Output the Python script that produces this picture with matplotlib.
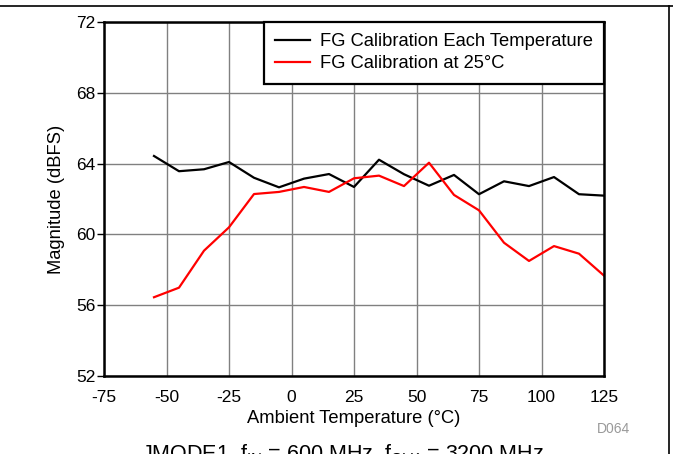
import matplotlib
matplotlib.use("Agg")
import matplotlib.pyplot as plt
import numpy as np

plt.rcParams['font.family'] = ['Liberation Sans', 'DejaVu Sans']
plt.rcParams['mathtext.fontset'] = 'custom'
plt.rcParams['mathtext.rm'] = 'Liberation Sans'
plt.rcParams['axes.unicode_minus'] = False
plt.rcParams['font.size'] = 13.2

temps = [-55, -45, -35, -25, -15, -5, 5, 15, 25, 35, 45, 55, 65, 75, 85, 95, 105, 115, 125]
each_temp = [64.43, 63.57, 63.68, 64.09, 63.2, 62.66, 63.15, 63.41, 62.68, 64.22,
             63.4, 62.75, 63.36, 62.27, 63.0, 62.73, 63.24, 62.27, 62.19]
at_25c = [56.45, 56.99, 59.08, 60.4, 62.28, 62.4, 62.68, 62.4, 63.17, 63.32,
          62.73, 64.05, 62.23, 61.36, 59.53, 58.5, 59.34, 58.91, 57.67]

xticks = np.arange(-75, 126, 25)
yticks = np.arange(52, 73, 4)

fig = plt.figure(figsize=(6.73, 4.54), dpi=100)
ax = fig.add_axes([104 / 673, 1 - 376 / 454, 500 / 673, 354 / 454])

ax.plot(temps, each_temp, color='black', linewidth=1.6, label='FG Calibration Each Temperature')
ax.plot(temps, at_25c, color='#ff0000', linewidth=1.6, label='FG Calibration at 25°C')

ax.set_xlim(-75, 125)
ax.set_ylim(52, 72)
ax.set_xticks(xticks)
ax.set_yticks(yticks)
ax.grid(True, color='#808080', linewidth=1)
ax.set_axisbelow(True)
for s in ax.spines.values():
    s.set_linewidth(1.8)
ax.tick_params(axis='both', labelsize=12.5)
ax.tick_params(axis='y', direction='out', length=5, width=1, pad=1)
ax.tick_params(axis='x', length=0, pad=10)

ax.set_xlabel('Ambient Temperature (°C)', labelpad=4)
ax.set_ylabel('Magnitude (dBFS)', labelpad=8)

leg = ax.legend(loc='upper right', borderaxespad=0, fancybox=False, framealpha=1,
                edgecolor='black', handlelength=1.9, handletextpad=0.55,
                labelspacing=0.3, borderpad=0.6)
leg.get_frame().set_linewidth(1.6)

fig.text(614 / 673, 1 - 429 / 454, 'D064', fontsize=10, color='#999999', ha='center', va='center')
fig.text(342 / 673, 1 - 442 / 454, r'JMODE1, f$_{\rm IN}$ = 600 MHz, f$_{\rm CLK}$ = 3200 MHz',
         fontsize=15.5, ha='center', va='top')

# page frame lines
fig.add_artist(plt.Line2D([0, 1], [1 - 6 / 454, 1 - 6 / 454], color='black', linewidth=1.2))
fig.add_artist(plt.Line2D([669 / 673, 669 / 673], [0, 1 - 6 / 454], color='black', linewidth=1.2))

fig.savefig('out.png', dpi=100)
